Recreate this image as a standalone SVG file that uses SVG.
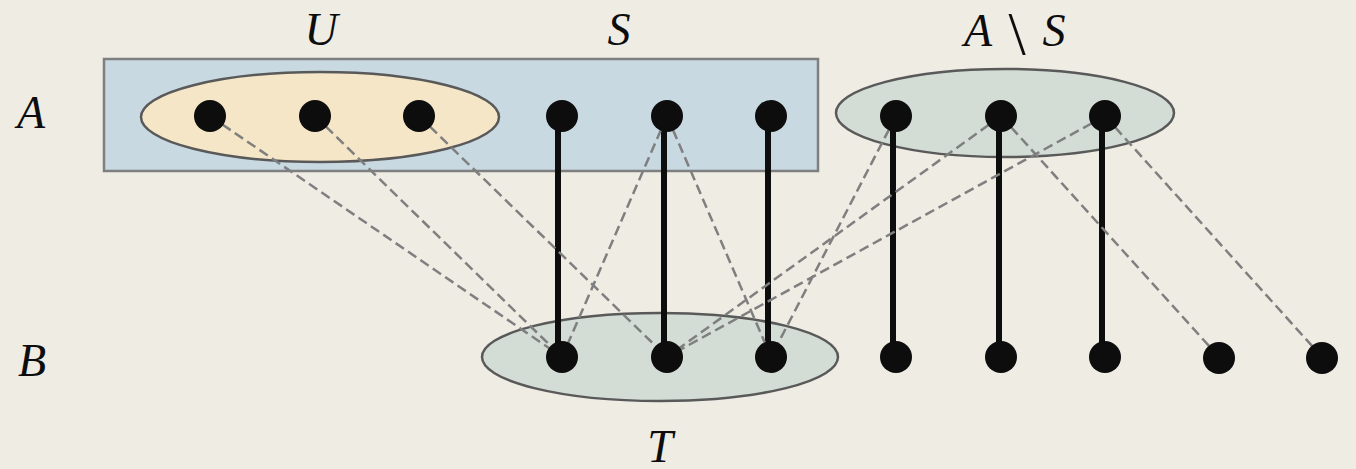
<svg xmlns="http://www.w3.org/2000/svg" width="1356" height="469" viewBox="0 0 1356 469">
<style>
.lbl{font-family:"Liberation Serif","DejaVu Serif",serif;font-style:italic;font-size:46px;fill:#0d0d0d;text-anchor:middle}
.dot{fill:#0d0d0d}
.solid{stroke:#0d0d0d;stroke-width:6;fill:none}
.dash{stroke:#7f7f7f;stroke-width:2.5;stroke-dasharray:10 5;fill:none}
.ell{stroke:#595959;stroke-width:2.5}
</style>
<rect width="1356" height="469" fill="#efece4"/>
<g id="groupA"><rect x="104" y="59" width="714" height="112" fill="#c9d9e2" stroke="#7f7f7f" stroke-width="2.5"/></g>
<g id="groupU"><ellipse class="ell" cx="320" cy="117" rx="179" ry="45" fill="#f4e6c6"/></g>
<g id="groupAS"><ellipse class="ell" cx="1005" cy="113" rx="169" ry="44" fill="#d3ddd5"/></g>
<g id="groupT"><ellipse class="ell" cx="660" cy="357" rx="178" ry="44" fill="#d3ddd5"/></g>
<g id="connectors">
<line class="solid" x1="558" y1="125" x2="558" y2="345"/>
<line class="solid" x1="664" y1="125" x2="664" y2="345"/>
<line class="solid" x1="768" y1="125" x2="768" y2="345"/>
<line class="solid" x1="893" y1="125" x2="893" y2="345"/>
<line class="solid" x1="999" y1="125" x2="999" y2="345"/>
<line class="solid" x1="1102" y1="125" x2="1102" y2="345"/>
<line class="dash" x1="210" y1="116" x2="562" y2="357"/>
<line class="dash" x1="315" y1="116" x2="562" y2="357"/>
<line class="dash" x1="419" y1="116" x2="667" y2="357"/>
<line class="dash" x1="667" y1="116" x2="562" y2="357"/>
<line class="dash" x1="667" y1="116" x2="771" y2="357"/>
<line class="dash" x1="896" y1="116" x2="771" y2="357"/>
<line class="dash" x1="1001" y1="116" x2="667" y2="357"/>
<line class="dash" x1="1105" y1="116" x2="667" y2="357"/>
<line class="dash" x1="1001" y1="116" x2="1219" y2="357"/>
<line class="dash" x1="1105" y1="116" x2="1322" y2="357"/>
</g>
<g id="nodesA">
<circle id="a1" class="dot" cx="210" cy="116" r="16"/>
<circle id="a2" class="dot" cx="315" cy="116" r="16"/>
<circle id="a3" class="dot" cx="419" cy="116" r="16"/>
<circle id="a4" class="dot" cx="562" cy="116" r="16"/>
<circle id="a5" class="dot" cx="667" cy="116" r="16"/>
<circle id="a6" class="dot" cx="771" cy="116" r="16"/>
<circle id="a7" class="dot" cx="896" cy="116" r="16"/>
<circle id="a8" class="dot" cx="1001" cy="116" r="16"/>
<circle id="a9" class="dot" cx="1105" cy="116" r="16"/>
</g>
<g id="nodesB">
<circle id="b1" class="dot" cx="562" cy="357" r="16"/>
<circle id="b2" class="dot" cx="667" cy="357" r="16"/>
<circle id="b3" class="dot" cx="771" cy="357" r="16"/>
<circle id="b4" class="dot" cx="896" cy="357" r="16"/>
<circle id="b5" class="dot" cx="1001" cy="357" r="16"/>
<circle id="b6" class="dot" cx="1105" cy="357" r="16"/>
<circle id="b7" class="dot" cx="1219" cy="358" r="16"/>
<circle id="b8" class="dot" cx="1322" cy="358" r="16"/>
</g>
<g id="labels">
<text class="lbl" x="321" y="45">U</text>
<text class="lbl" x="619" y="45">S</text>
<text class="lbl" x="1014" y="46"><tspan x="978">A</tspan><tspan x="1017" y="54" style="font-style:normal;font-size:62px">\</tspan><tspan x="1054" y="46">S</tspan></text>
<text class="lbl" x="31" y="128">A</text>
<text class="lbl" x="32" y="376">B</text>
<text class="lbl" x="660" y="462">T</text>
</g>
</svg>
